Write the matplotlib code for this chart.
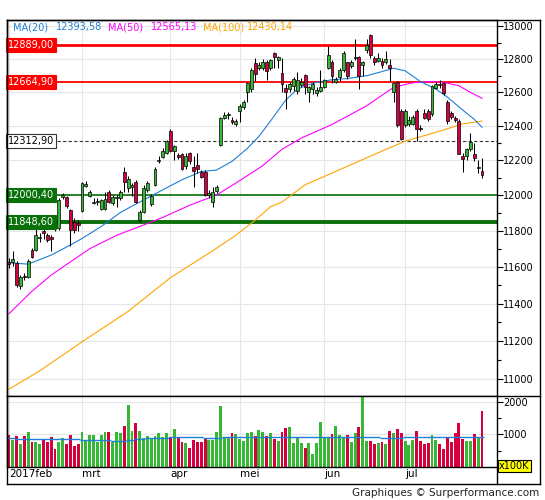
import matplotlib
matplotlib.use('Agg')
import matplotlib.pyplot as plt
from matplotlib.ticker import FixedLocator, FuncFormatter, NullFormatter
from matplotlib.lines import Line2D
import matplotlib.transforms as mtransforms

# Daily candles, 2 Feb - 31 Jul 2017
opens = [11625, 11627, 11623, 11495, 11552, 11543, 11695, 11693, 11760, 11800,
         11775, 11765, 11840, 11815, 11990, 11992, 11916, 11848, 11842, 11912,
         12055, 11995, 11955, 11962, 11920, 11925, 12020, 11955, 11985, 11985,
         12136, 12040, 12050, 12078, 11862, 11905, 12031, 11953, 12060, 12195,
         12222, 12243, 12372, 12254, 12230, 12235, 12166, 12245, 12160, 12176,
         12136, 12136, 12002, 11962, 12027, 12290, 12450, 12465, 12438, 12415,
         12490, 12515, 12605, 12620, 12775, 12745, 12745, 12785, 12745, 12835,
         12797, 12716, 12628, 12620, 12640, 12607, 12645, 12705, 12600, 12620,
         12595, 12610, 12630, 12745, 12785, 12665, 12695, 12735, 12780, 12760,
         12805, 12812, 12765, 12858, 12945, 12805, 12790, 12790, 12780, 12765,
         12600, 12665, 12490, 12405, 12415, 12415, 12490, 12392, 12480, 12490,
         12470, 12626, 12652, 12655, 12545, 12480, 12447, 12430, 12225, 12225,
         12264, 12235, 12154, 12142]
highs = [11650, 11690, 11633, 11555, 11566, 11645, 11703, 11831, 11790, 11810,
         11790, 11775, 11860, 11985, 12015, 11995, 11925, 11870, 11860, 12075,
         12080, 12030, 11985, 11985, 11982, 12020, 12030, 12000, 12000, 12030,
         12165, 12108, 12072, 12085, 11916, 12060, 12080, 12010, 12160, 12228,
         12270, 12320, 12383, 12292, 12245, 12245, 12245, 12250, 12225, 12245,
         12145, 12147, 12030, 12050, 12060, 12455, 12482, 12485, 12452, 12445,
         12530, 12555, 12665, 12745, 12805, 12785, 12800, 12795, 12800, 12845,
         12818, 12805, 12652, 12665, 12690, 12720, 12685, 12712, 12640, 12660,
         12630, 12735, 12680, 12880, 12795, 12695, 12745, 12850, 12785, 12795,
         12925, 12818, 12790, 12925, 12952, 12820, 12835, 12805, 12848, 12800,
         12665, 12670, 12500, 12500, 12460, 12465, 12500, 12405, 12500, 12500,
         12645, 12665, 12675, 12665, 12555, 12490, 12460, 12440, 12245, 12275,
         12357, 12300, 12205, 12215]
lows = [11595, 11605, 11490, 11480, 11526, 11540, 11650, 11689, 11740, 11752,
        11740, 11689, 11800, 11805, 11980, 11930, 11717, 11790, 11800, 11905,
        12048, 11990, 11950, 11944, 11916, 11915, 11955, 11945, 11935, 11975,
        12020, 12020, 11995, 11955, 11848, 11900, 12020, 11940, 12055, 12185,
        12215, 12240, 12250, 12205, 12210, 12145, 12150, 12180, 12050, 12130,
        12100, 11995, 11985, 11935, 12015, 12285, 12443, 12445, 12412, 12400,
        12422, 12500, 12545, 12605, 12670, 12735, 12735, 12675, 12735, 12745,
        12745, 12600, 12500, 12600, 12610, 12590, 12630, 12590, 12545, 12590,
        12580, 12600, 12625, 12740, 12655, 12655, 12670, 12725, 12680, 12745,
        12795, 12623, 12700, 12840, 12805, 12765, 12780, 12745, 12772, 12670,
        12545, 12395, 12318, 12395, 12400, 12405, 12312, 12370, 12440, 12430,
        12460, 12620, 12625, 12585, 12415, 12445, 12425, 12235, 12135, 12205,
        12255, 12195, 12125, 12100]
closes = [11615, 11642, 11500, 11545, 11545, 11634, 11655, 11775, 11768, 11785,
          11748, 11755, 11830, 11973, 12000, 11938, 11802, 11805, 11830, 12070,
          12062, 12020, 11965, 11966, 11973, 11982, 11962, 11990, 11992, 12018,
          12078, 12092, 12060, 11962, 11905, 12040, 12070, 11996, 12150, 12205,
          12254, 12312, 12257, 12283, 12218, 12150, 12225, 12196, 12140, 12150,
          12107, 12002, 12016, 12020, 12050, 12450, 12467, 12472, 12425, 12430,
          12520, 12541, 12655, 12735, 12712, 12765, 12785, 12730, 12792, 12815,
          12812, 12650, 12600, 12652, 12678, 12672, 12665, 12630, 12630, 12648,
          12615, 12630, 12672, 12828, 12700, 12683, 12735, 12840, 12700, 12785,
          12815, 12700, 12780, 12889, 12825, 12780, 12805, 12765, 12800, 12745,
          12655, 12405, 12325, 12490, 12437, 12452, 12383, 12385, 12448, 12445,
          12637, 12650, 12645, 12595, 12430, 12455, 12438, 12240, 12208, 12264,
          12305, 12212, 12165, 12118]
# volume in units of 100K
volumes = [974, 820, 944, 697, 944, 1067, 759, 759, 697, 820,
           759, 913, 544, 759, 882, 697, 974, 636, 697, 1067,
           820, 974, 974, 759, 974, 1067, 1067, 759, 1067, 1036,
           1251, 1897, 1097, 1344, 1097, 882, 944, 882, 944, 1036,
           913, 1036, 913, 1159, 892, 759, 718, 574, 820, 759,
           759, 872, 820, 820, 1067, 1867, 913, 913, 1036, 1005,
           851, 790, 1036, 1067, 944, 1128, 1067, 944, 1036, 862,
           790, 1067, 1190, 1220, 728, 882, 728, 574, 728, 390,
           728, 1374, 882, 882, 1005, 1251, 974, 913, 974, 759,
           1036, 1220, 2400, 790, 790, 697, 728, 759, 697, 1097,
           1036, 1159, 1036, 790, 667, 820, 1097, 790, 697, 728,
           974, 820, 697, 544, 882, 759, 1036, 1344, 851, 790,
           790, 1005, 882, 1713]

# moving averages at sample candles
ma20_idx = [0, 5, 11, 16, 19, 24, 29, 34, 39, 45, 50, 54, 58, 62, 65, 68, 72, 75,
            79, 84, 88, 93, 97, 100, 103, 107, 111, 114, 118, 121, 123]
ma20_val = [11623, 11615, 11665, 11721, 11757, 11824, 11903, 11962, 12020, 12089,
            12136, 12145, 12195, 12270, 12340, 12430, 12555, 12620, 12655, 12676,
            12683, 12700, 12725, 12745, 12730, 12665, 12620, 12572, 12495, 12440, 12394]
ma50_idx = [0, 6, 11, 16, 21, 28, 34, 40, 47, 54, 59, 66, 71, 76, 84, 93, 100,
            105, 110, 113, 117, 120, 123]
ma50_val = [11345, 11467, 11555, 11628, 11700, 11775, 11824, 11875, 11944, 12002,
            12070, 12170, 12265, 12330, 12410, 12520, 12630, 12658, 12665, 12660,
            12640, 12600, 12565]
ma100_idx = [0, 8, 19, 31, 42, 53, 59, 64, 68, 71, 77, 86, 95, 103, 111, 118, 123]
ma100_val = [10947, 11042, 11195, 11358, 11541, 11689, 11775, 11859, 11935, 11962,
             12060, 12147, 12235, 12312, 12364, 12413, 12430]
vol_avg_idx = [0, 2, 19, 27, 31, 33, 36, 42, 51, 56, 97, 103, 108, 113, 124]
vol_avg_val = [882, 851, 820, 790, 810, 851, 882, 903, 872, 913, 892, 903, 913, 903]

# horizontal levels
levels = [12889.00, 12664.90, 12312.90, 12000.40, 11848.60]
level_labels = ['12889,00', '12664,90', '12312,90', '12000,40', '11848,60']

month_idx = [0, 19, 42, 60, 82, 103]
month_labels = ['2017feb', 'mrt', 'apr', 'mei', 'jun', 'jul']

legend_parts = ['MA(20)', '12393,58', 'MA(50)', '12565,13', 'MA(100)', '12430,14']

GREEN = '#36b836'
RED = '#d6003f'
C20 = '#1e7fd6'
C50 = '#ff00ff'
C100 = '#ffa500'
GRID = '#e6e6e6'

W, H = 545, 500
fig = plt.figure(figsize=(W / 100, H / 100), dpi=100)


def fx(px):
    return px / W


def fy(py):
    return 1 - py / H


ax = fig.add_axes([fx(6.7), fy(395.5), fx(497) - fx(6.7), fy(19.5) - fy(395.5)])
axv = fig.add_axes([fx(6.7), fy(466.7), fx(497) - fx(6.7), fy(395.5) - fy(466.7)], sharex=ax)

n = len(closes)
xs = list(range(n))
up = [c >= o for o, c in zip(opens, closes)]
colors = [GREEN if u else RED for u in up]

# price panel
ax.set_yscale('log')
ax.vlines(xs, lows, highs, color='black', lw=0.75, zorder=3)
bottoms = [min(o, c) for o, c in zip(opens, closes)]
heights = [max(abs(c - o), 3) for o, c in zip(opens, closes)]
ax.bar(xs, heights, bottom=bottoms, width=0.75, color=colors,
       edgecolor='black', linewidth=0.5, zorder=4)

ax.plot(ma100_idx, ma100_val, color=C100, lw=0.8, zorder=2)
ax.plot(ma50_idx, ma50_val, color=C50, lw=0.8, zorder=2)
ax.plot(ma20_idx, ma20_val, color=C20, lw=0.8, zorder=2)

level_styles = [
    dict(color='#ff0000', lw=2.0, ls='-'),
    dict(color='#ff0000', lw=1.3, ls='-'),
    dict(color='#333333', lw=0.8, ls=(0, (3, 2))),
    dict(color='#0a700a', lw=1.2, ls='-'),
    dict(color='#0a700a', lw=2.8, ls='-'),
]
box_styles = [
    dict(fc='#ff0000', ec='#ff0000', tc='white'),
    dict(fc='#ff0000', ec='#ff0000', tc='white'),
    dict(fc='white', ec='#333333', tc='black'),
    dict(fc='#0a700a', ec='#0a700a', tc='white'),
    dict(fc='#0a700a', ec='#0a700a', tc='white'),
]
trans = mtransforms.blended_transform_factory(ax.transAxes, ax.transData)
for lv, lab, st, bs in zip(levels, level_labels, level_styles, box_styles):
    ax.axhline(lv, zorder=1.5, **st)
    ax.text(0.002, lv, lab, transform=trans, ha='left', va='center',
            fontsize=7, color=bs['tc'], zorder=6,
            bbox=dict(boxstyle='square,pad=0.2', fc=bs['fc'], ec=bs['ec'], lw=0.8))

ax.set_ylim(10914, 13043)
ax.set_xlim(-0.57, 126.9)
ax.yaxis.set_major_locator(FixedLocator(list(range(11000, 13001, 200))))
ax.yaxis.set_minor_locator(FixedLocator(list(range(11100, 13000, 200))))
ax.yaxis.set_major_formatter(FuncFormatter(lambda v, p: '%d' % round(v)))
ax.yaxis.set_minor_formatter(NullFormatter())
ax.yaxis.tick_right()
ax.tick_params(axis='y', which='major', direction='out', length=4, width=0.8,
               pad=0.5, labelsize=7)
ax.tick_params(axis='y', which='minor', direction='out', length=3, width=0.8)
ax.tick_params(axis='x', which='both', length=0, labelbottom=False)
ax.set_xticks(month_idx)
ax.grid(True, which='major', color=GRID, lw=0.8, zorder=0)
ax.set_axisbelow(True)
for s in ax.spines.values():
    s.set_linewidth(1.0)

# legend text at top-left
leg_colors = [C20, C20, C50, C50, C100, C100]
leg_x = [13, 56, 108, 151, 203, 247]
for t, c, px in zip(legend_parts, leg_colors, leg_x):
    fig.text(fx(px), fy(27), t, color=c, fontsize=7, ha='left', va='center')

# volume panel
axv.bar(xs, volumes, width=0.75, color=colors, linewidth=0, zorder=2)
for k in range(len(vol_avg_val)):
    axv.hlines(vol_avg_val[k], vol_avg_idx[k] - 0.5, vol_avg_idx[k + 1] - 0.5,
               color=C20, lw=1.0, zorder=3)
axv.set_ylim(0, 2200)
axv.yaxis.tick_right()
axv.yaxis.set_major_locator(FixedLocator([1000, 2000]))
axv.yaxis.set_minor_locator(FixedLocator([500, 1500]))
axv.tick_params(axis='y', which='major', direction='out', length=4, width=0.8,
                pad=0.5, labelsize=7)
axv.tick_params(axis='y', which='minor', direction='out', length=3, width=0.8)
axv.set_xticks(month_idx)
axv.set_xticklabels(month_labels, ha='left', fontsize=7.5)
axv.tick_params(axis='x', length=0, pad=2)
axv.grid(True, color=GRID, lw=0.8, zorder=0)
axv.set_axisbelow(True)
for s in axv.spines.values():
    s.set_linewidth(1.0)

# outer frame
frame = [((6.7, 19.5), (540, 19.5)), ((6.7, 484), (540, 484)),
         ((6.7, 19.5), (6.7, 484)), ((540, 19.5), (540, 484)),
         ((497, 395.5), (540, 395.5)), ((497, 466.7), (497, 484))]
for (x0, y0), (x1, y1) in frame:
    fig.add_artist(Line2D([fx(x0), fx(x1)], [fy(y0), fy(y1)], color='black', lw=1.0))

fig.text(fx(499), fy(466), 'x100K', fontsize=7, ha='left', va='center',
         bbox=dict(boxstyle='square,pad=0.15', fc='#ffff00', ec='black', lw=0.8))
fig.text(fx(539), fy(493), 'Graphiques \u00a9 Surperformance.com', fontsize=7.5,
         ha='right', va='center', color='#222222')

fig.savefig('out.png', dpi=100)
